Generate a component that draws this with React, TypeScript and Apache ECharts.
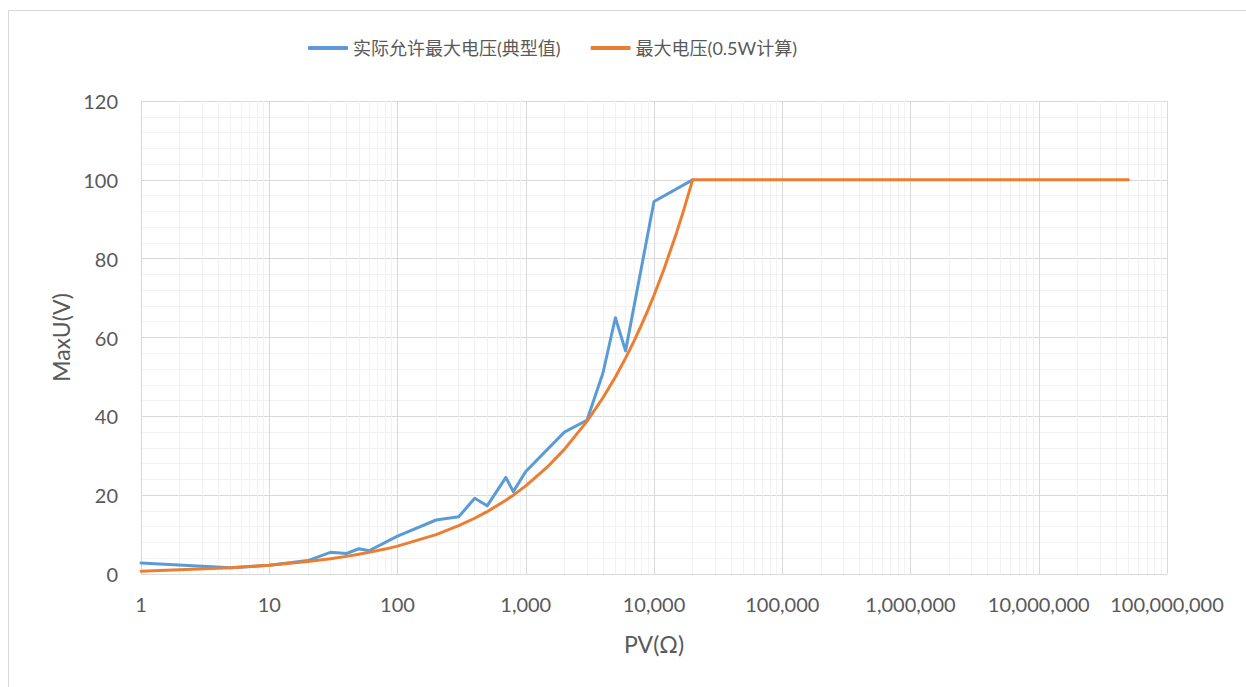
import React, { useEffect, useRef } from "react";
import * as echarts from "echarts";

// Actual allowed max voltage (typical)
const actualR = [1, 5, 10, 20, 30, 40, 50, 60, 100, 200, 300, 400, 500, 700, 800, 1000, 2000, 3000, 4000, 5000, 6000, 10000, 20000];
const actualU = [2.8, 1.6, 2.2, 3.4, 5.5, 5.2, 6.4, 5.9, 9.6, 13.7, 14.5, 19.2, 17.3, 24.5, 20.9, 26.0, 36.0, 39.0, 51.0, 65.0, 56.6, 94.5, 100];

// Max voltage (0.5W calculated)
const calcR = [1, 5, 10, 20, 30, 40, 50, 60, 80, 100, 200, 300, 400, 500, 700, 800, 1000, 1500, 2000, 3000, 4000, 5000, 6000, 7000, 8000, 9000, 10000, 12000, 15000, 17000, 20000, 100000, 1000000, 10000000, 50000000];
const calcU = [0.71, 1.58, 2.24, 3.16, 3.87, 4.47, 5.0, 5.48, 6.32, 7.07, 10.0, 12.25, 14.14, 15.81, 18.71, 20.0, 22.36, 27.39, 31.62, 38.73, 44.72, 50.0, 54.77, 59.16, 63.25, 67.08, 70.71, 77.46, 86.6, 92.2, 100, 100, 100, 100, 100];

const seriesNames = ["实际允许最大电压(典型值)", "最大电压(0.5W计算)"];
const xAxisName = "PV(Ω)";
const yAxisName = "MaxU(V)";

const FONT = "Lato, 'Noto Sans CJK SC', sans-serif";
const TEXT = "#595959";

export default function App() {
  const ref = useRef<HTMLDivElement>(null);

  useEffect(() => {
    if (!ref.current) return;
    const chart = echarts.init(ref.current, undefined, { renderer: "svg" });

    const minorX: { xAxis: number }[] = [];
    for (let d = 1; d < 1e8; d *= 10) {
      for (let k = 2; k <= 9; k++) minorX.push({ xAxis: k * d });
    }

    chart.setOption({
      animation: false,
      textStyle: { fontFamily: FONT, color: TEXT },
      graphic: [
        {
          type: "rect",
          z: -10,
          shape: { x: 8.5, y: 10.5, width: 1250, height: 700 },
          style: { fill: "none", stroke: "#D9D9D9", lineWidth: 1 },
          silent: true,
        },
      ],
      legend: {
        left: 303,
        top: 34,
        itemWidth: 40,
        itemHeight: 4,
        itemGap: 30,
        icon: "roundRect",
        textStyle: { fontFamily: FONT, fontSize: 18, color: TEXT },
        data: seriesNames,
      },
      grid: { left: 141, right: 79, top: 101, bottom: 113, containLabel: false },
      xAxis: {
        type: "log",
        logBase: 10,
        min: 1,
        max: 100000000,
        name: xAxisName,
        nameLocation: "middle",
        nameGap: 58,
        nameTextStyle: { fontFamily: FONT, fontSize: 23, color: TEXT },
        axisLine: { show: true, lineStyle: { color: "#D9D9D9", width: 1 } },
        axisTick: { show: false },
        axisLabel: {
          fontFamily: FONT,
          fontSize: 20,
          color: TEXT,
          margin: 20,
          formatter: (v: number) => Math.round(v).toLocaleString("en-US"),
        },
        splitLine: { show: true, lineStyle: { color: "#D9D9D9", width: 1 } },
        minorTick: { show: false },
        minorSplitLine: { show: false },
      },
      yAxis: {
        type: "value",
        min: 0,
        max: 120,
        interval: 20,
        name: yAxisName,
        nameLocation: "middle",
        nameGap: 63,
        nameRotate: 90,
        nameTextStyle: { fontFamily: FONT, fontSize: 23, color: TEXT },
        axisLine: { show: true, lineStyle: { color: "#D9D9D9", width: 1 } },
        axisTick: { show: false },
        axisLabel: { fontFamily: FONT, fontSize: 20, color: TEXT, margin: 23 },
        splitLine: { show: true, lineStyle: { color: "#D9D9D9", width: 1 } },
        minorTick: { show: false, splitNumber: 5 },
        minorSplitLine: { show: true, lineStyle: { color: "#F2F2F2", width: 1 } },
      },
      series: [
        {
          name: "__minor",
          type: "line",
          data: [],
          z: 0,
          silent: true,
          markLine: {
            z: 0,
            silent: true,
            symbol: "none",
            label: { show: false },
            lineStyle: { color: "#F2F2F2", width: 1, type: "solid" },
            emphasis: { disabled: true },
            data: minorX,
          },
        },
        {
          name: seriesNames[0],
          type: "line",
          data: actualR.map((r, i) => [r, actualU[i]]),
          showSymbol: false,
          symbol: "none",
          z: 3,
          lineStyle: { color: "#5B9BD5", width: 3, cap: "round", join: "round" },
          itemStyle: { color: "#5B9BD5" },
        },
        {
          name: seriesNames[1],
          type: "line",
          data: calcR.map((r, i) => [r, calcU[i]]),
          showSymbol: false,
          symbol: "none",
          z: 4,
          lineStyle: { color: "#ED7D31", width: 3, cap: "round", join: "round" },
          itemStyle: { color: "#ED7D31" },
        },
      ],
    });

    return () => chart.dispose();
  }, []);

  return (
    <div
      ref={ref}
      style={{ position: "absolute", left: 0, top: 0, width: 1246, height: 687, background: "#fff" }}
    />
  );
}
